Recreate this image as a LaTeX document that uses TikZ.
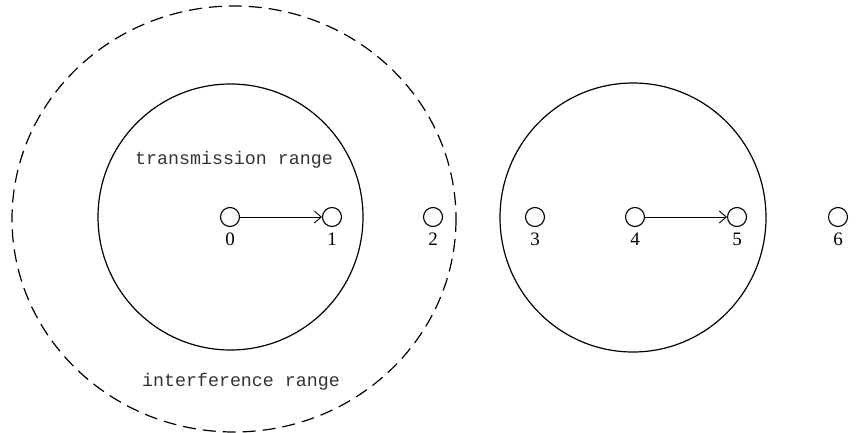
\documentclass[tikz,border=0pt]{standalone}
\usepackage{fontspec}
\setmainfont{Liberation Serif}
\newfontfamily\monofnt{Liberation Mono}
\usetikzlibrary{arrows.meta}
\begin{document}
\begin{tikzpicture}[x=1pt,y=-1pt,
  station/.style={circle,draw,line width=1.1pt,minimum size=19pt,inner sep=0pt},
  lbl/.style={font=\fontsize{19}{19}\selectfont,inner sep=0pt},
  rangetxt/.style={font=\monofnt\fontsize{18.3}{18}\selectfont,inner sep=0pt,text=black!80},
  rangecirc/.style={draw,line width=1.2pt},
  link/.style={draw,line width=0.9pt,-{Straight Barb[length=7pt,width=12pt,line width=0.9pt]}}]
\useasboundingbox (0,0) rectangle (856,433);
% ranges
\draw[rangecirc,dash pattern=on 13pt off 7pt] (234,219) ellipse [x radius=222,y radius=213];
\draw[rangecirc] (230.5,217) ellipse [x radius=132.5,y radius=133];
\draw[rangecirc] (633,217.5) ellipse [x radius=133,y radius=134.5];
\node[rangetxt] (tr) at (234,160) {transmission range};
\node[rangetxt] (ir) at (241,382) {interference range};
% stations
\foreach \n/\x in {0/230,1/332,2/433,3/535,4/635,5/737,6/838}{
  \node[station] (s\n) at (\x,217) {};
  \node[lbl] (l\n) at (\x,239) {\n};
}
\draw[link] (s0) -- (s1);
\draw[link] (s4) -- (s5);
\end{tikzpicture}
\end{document}
